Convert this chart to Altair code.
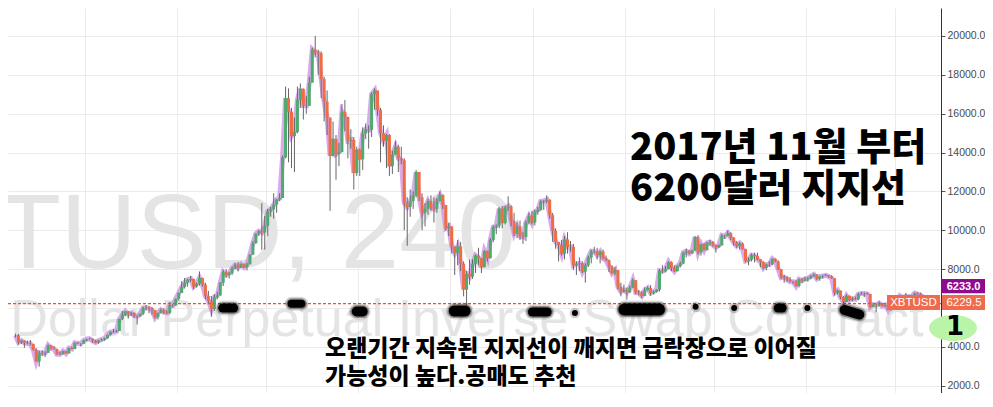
import altair as alt
import pandas as pd

# ---------------- daily candles (XBTUSD) ----------------
first_open = 4600
sep_c = [4590,4230,4320,4200,4170,4150,3860,3250,3690,3650,3690,4080,3920,3880,3620,3620,3780,3660,3930,3890,4210,4180,4160,4340]
sep_h = [4680,4660,4360,4330,4320,4350,4160,3930,3800,3830,3770,4120,4100,4050,3900,3760,3810,3790,3970,4000,4230,4250,4190,4360]
sep_l = [4490,4120,4150,3950,4130,4080,3800,3230,2980,3550,3480,3690,3860,3860,3590,3570,3600,3650,3660,3870,3900,4150,4030,4160]

oct_c = [4400,4410,4310,4220,4320,4370,4440,4610,4770,4780,4820,5430,5640,5830,5680,5750,5600,5570,5700,6000,6010,5980,5900,5520,5750,5900,5780,5750,6150,6130,6470]
oct_h = [4410,4470,4430,4360,4350,4420,4470,4620,4800,4930,4880,5450,5850,5840,5840,5790,5760,5610,5720,6060,6150,6080,6040,5890,5760,5970,5990,5870,6310,6200,6480]
oct_l = [4280,4380,4210,4180,4160,4310,4320,4420,4580,4720,4750,4830,5380,5580,5450,5590,5500,5150,5540,5630,5890,5730,5650,5450,5410,5720,5690,5690,5680,6030,6100]

nov_c = [6770,7080,7300,7450,7500,7100,7250,7550,7200,6620,6360,5950,6560,6640,7300,7850,7700,7790,8040,8200,8070,8250,8090,8250,8750,9330,9820,9950,9880,10230]
nov_h = [6800,7380,7550,7500,7650,7500,7300,7880,7560,7300,6880,6620,6720,6840,7330,7960,8000,7860,8110,8300,8370,8290,8290,8330,8760,9450,9830,10000,11400,10730]
nov_l = [6380,6770,7000,7100,7350,6980,7050,7150,7100,6450,6200,5550,5850,6450,6640,7130,7580,7520,7700,7990,7880,8070,8060,7930,8240,8730,9310,9700,9000,9000]

dec_c = [10970,11080,11320,11590,11660,13750,16800,16100,14850,15060,16730,17280,16410,16400,17600,19300,19140,19110,17780,16620,15800,13830,14700,13920,14030,16100,15840,14600,14650,12950,14150]
dec_h = [11100,11200,11900,11600,11900,13850,17400,17300,16300,15800,17400,17560,17300,16900,17900,19400,20000,19300,19200,17900,17200,15800,15600,14900,14500,16500,16700,15700,15200,14800,14300]
dec_l = [9700,10700,10600,10900,11500,11650,13700,13500,13200,13000,15000,16300,15700,16000,16400,17600,18900,18000,16800,15600,14900,11000,13800,12600,13300,14000,15100,13700,14200,12100,12800]

jan_c = [13650,14980,15200,15170,17000,17200,16200,15000,14600,14900,13300,13900,14300,13700,13600,11400,11200,11500,11800,13000,11700,10900,11100,11500,11200,11100,11500,11800,11300,10100,10200]
jan_h = [14200,15300,15500,15400,17100,17300,17100,16300,15400,14950,14950,14100,14600,14400,14300,13700,11700,12100,12000,13100,13000,11900,11400,11600,11800,11700,11650,12000,11850,11300,10400]
jan_l = [12800,13100,14700,14200,14800,16200,15900,13500,14300,13200,12800,12900,13900,13000,13400,10000,9200,10700,11100,11700,11500,10000,10200,10800,11000,10400,10900,11500,11100,10000,9700]

feb_c = [9170,8830,9170,8280,6950,7750,7620,8270,8700,8570,8100,8930,8560,9500,10170,10230,11110,10380,11160,11230,10480,9830,10200,9700,9660,10400,10730,10400]
feb_h = [10200,9100,9500,9400,8400,7900,8500,8500,8750,9100,8550,8970,8950,9600,10250,10300,11200,11250,11250,11750,11300,10900,10400,10500,9900,10500,10900,11000]
feb_l = [8800,7700,8200,7900,6600,6000,7200,7500,7800,8200,7800,8100,8400,8550,9400,9800,10100,10100,10300,11000,10200,9700,9600,9500,9300,9450,10300,10300]

mar_c = [10950,11050,11490,11510,11570,10780,9970,9400,9240,8790,9530,9140,9150,8200,8270,8300,7870,8200,8600,8920,8900,8720,8900,8550,8450,8140,7790,7950,7090,6840,6930]
mar_h = [11050,11200,11550,11550,11800,11600,10900,10100,9400,9500,9700,9900,9450,9300,8400,8600,8400,8300,8700,9000,9150,9100,8950,9000,8700,8500,8200,8100,7950,7300,7200]
mar_l = [10250,10800,11000,11050,11400,10600,9400,9050,8400,8700,8500,8800,8900,7950,7700,7900,7800,7300,8100,8300,8800,8500,8300,8500,8400,7850,7750,7700,6950,6600,6800]

apr_c = [6810,7050,7430,6790,6780,6620,6910,7030,6770,6830,6940,7920,7890,8000,8360,8060,7890,8160,8290,8850,8920,8800,8950,9650,8860,9280,8980,9350,9390,9240]
apr_h = [7050,7150,7520,7440,6930,6860,7070,7100,7180,6900,6970,8000,8200,8150,8400,8400,8200,8200,8380,8900,9050,9000,9000,9700,9750,9300,9350,9400,9500,9450]
apr_l = [6430,6770,7030,6720,6650,6520,6600,6900,6640,6700,6800,6850,7800,7830,8000,7900,7850,7890,8090,8250,8600,8760,8800,8950,8750,8700,8950,8950,9200,9150]

may_c = [9120,9230,9740,9700,9860,9620,9370,9190,9320,9030,8420,8480,8720,8680,8500,8370,8060,8240,8240,8530,8400,8000,7560,7590,7460,7350,7350,7130,7470,7400,7500]
may_h = [9250,9270,9800,9750,9990,9900,9650,9450,9400,9380,9050,8600,8800,8850,8850,8500,8400,8280,8400,8550,8550,8450,8000,7700,7650,7600,7400,7450,7530,7550,7600]
may_l = [8850,9100,9200,9550,9700,9500,9200,9100,9000,9000,8350,8200,8400,8350,8450,8100,8000,7950,8120,8200,8350,7950,7500,7300,7350,7320,7250,7100,7060,7300,7380]

jun_c = [7530,7640,7720,7500,7630,7650,7680,7620,7530,6780,6900,6550,6310,6630,6400,6490,6450,6710,6740,6760,6720,6050,6170,6150,6250,6090,6160,5900,6220,6400]
jun_h = [7600,7700,7780,7750,7650,7700,7750,7700,7680,7540,6950,6900,6610,6700,6640,6560,6580,6780,6830,6800,6800,6730,6250,6230,6340,6270,6200,6170,6290,6500]
jun_l = [7350,7480,7600,7450,7400,7520,7640,7550,7500,6650,6700,6450,6140,6300,6360,6350,6420,6400,6680,6560,6670,6000,6050,5780,6080,6070,6040,5870,5830,6190]

jul_c = [6360,6620,6510,6600,6530,6600,6760,6710,6650,6300,6380,6250,6229.5]
jul_h = [6420,6650,6680,6770,6700,6640,6800,6800,6790,6690,6400,6390,6330]
jul_l = [6300,6330,6480,6430,6480,6460,6500,6680,6620,6290,6280,6070,6150]

last_price = 6229.5
mark_price = 6233.0
y_ticks = [2000, 4000, 6000, 8000, 10000, 12000, 14000, 16000, 18000, 20000, 22000]

# support-line annotation blobs (hand-drawn marks on the original)
blob_start = ["2017-11-16T08:00:00", "2017-12-09T12:00:00", "2017-12-31T12:00:00", "2018-02-02T08:00:00",
              "2018-02-28T16:00:00", "2018-03-31T16:00:00", "2018-05-22T12:00:00", "2018-06-13T20:00:00"]
blob_end = ["2017-11-20T00:00:00", "2017-12-12T20:00:00", "2018-01-02T12:00:00", "2018-02-06T00:00:00",
            "2018-03-05T16:00:00", "2018-04-12T08:00:00", "2018-05-23T20:00:00", "2018-06-18T20:00:00"]
blob_p1 = [5999, 6215, 5819, 5845, 5793, 5922, 5999, 5896]
blob_p2 = [5999, 6215, 5819, 5845, 5793, 5922, 5999, 5665]
blob_w = [9, 8, 10, 11, 9, 12, 9, 10]
dot_t = ["2018-03-15T00:00:00", "2018-04-24T16:00:00", "2018-05-07T16:00:00", "2018-06-01T08:00:00"]
dot_p = [5742, 6066, 5999, 5999]

# ---------------- tables ----------------
close = sep_c + oct_c + nov_c + dec_c + jan_c + feb_c + mar_c + apr_c + may_c + jun_c + jul_c
high = sep_h + oct_h + nov_h + dec_h + jan_h + feb_h + mar_h + apr_h + may_h + jun_h + jul_h
low = sep_l + oct_l + nov_l + dec_l + jan_l + feb_l + mar_l + apr_l + may_l + jun_l + jul_l
dates = pd.date_range("2017-09-07 12:00", "2018-07-13 12:00", freq="D")
assert len(close) == len(high) == len(low) == len(dates)
opens = [first_open] + close[:-1]
df = pd.DataFrame({"t": dates.strftime("%Y-%m-%dT%H:%M:%S"), "o": opens, "h": high, "l": low, "c": close})

blobs = pd.DataFrame({"s": blob_start, "e": blob_end, "p1": blob_p1, "p2": blob_p2, "w": blob_w})
blobs["w2"] = blobs["w"] + 3
blobs["w3"] = blobs["w"] + 6
dots = pd.DataFrame({"t": dot_t, "p": dot_p})
one = pd.DataFrame({"a": [0]})

# ---------------- scales / axes ----------------
x_scale = alt.Scale(domain=[alt.DateTime(year=2017, month=9, date=6, hours=16),
                            alt.DateTime(year=2018, month=7, date=14, hours=16)])
y_scale = alt.Scale(domain=[1624, 21441], nice=False, zero=False)
x_axis = alt.Axis(title=None, labels=False, ticks=False, domain=False, grid=True,
                  gridColor="#ebebeb", tickCount="month")
y_axis = alt.Axis(orient="right", title=None, values=y_ticks, format=".1f", labelFontSize=10.5,
                  labelExpr="datum.value == 6000 ? '' : format(datum.value, '.1f')",
                  labelFont="Liberation Sans", labelColor="#4a4a4a", tickColor="#555555", tickSize=4,
                  domainColor="#333333", gridColor="#ebebeb", labelPadding=2)


def X(f):
    return alt.X(f, scale=x_scale, axis=x_axis)


def Y(f):
    return alt.Y(f, scale=y_scale, axis=y_axis)


def txt(s, x, y, **kw):
    return alt.Chart(one).mark_text(text=s, **kw).encode(x=alt.value(x), y=alt.value(y))


def box(x1, x2, y1, y2, color):
    return alt.Chart(one).mark_rect(color=color).encode(
        x=alt.value(x1), x2=alt.value(x2), y=alt.value(y1), y2=alt.value(y2))


wm_color = "#e4e4e4"
watermark1 = txt("XBTUSD, 240", 508, 260, align="right", baseline="alphabetic", fontSize=105,
                 font="Liberation Sans", color=wm_color)
watermark2 = txt("Dollar Perpetual Inverse Swap Contract", 459, 328, align="center", baseline="alphabetic",
                 fontSize=52, font="Liberation Sans", color=wm_color)

base = alt.Chart(df).encode(x=X("t:T"))
purple = base.mark_line(color="#cc8ee6", strokeWidth=5, opacity=0.75).encode(y=Y("c:Q"))
wicks = base.mark_rule(color="#666666", strokeWidth=1).encode(y=Y("l:Q"), y2="h:Q")
bodies = base.mark_bar(size=3).encode(
    y=Y("o:Q"), y2="c:Q",
    color=alt.condition("datum.c >= datum.o", alt.value("#4dab6d"), alt.value("#ef6c45")))

price_line = alt.Chart(pd.DataFrame({"p": [last_price]})).mark_rule(
    color="#f4511e", strokeDash=[3, 2], strokeWidth=1.2).encode(y=Y("p:Q"))

blob_layers = []
for wcol, op in (("w3", 0.15), ("w2", 0.35)):
    blob_layers.append(alt.Chart(blobs).mark_rule(color="black", strokeCap="round", opacity=op).encode(
        x=X("s:T"), x2="e:T", y=Y("p1:Q"), y2="p2:Q", strokeWidth=alt.StrokeWidth(wcol + ":Q", scale=None)))
blob_layers.append(alt.Chart(blobs).mark_rule(color="black", strokeCap="round").encode(
    x=X("s:T"), x2="e:T", y=Y("p1:Q"), y2="p2:Q", strokeWidth=alt.StrokeWidth("w:Q", scale=None)))
blob_layers.append(alt.Chart(dots).mark_circle(color="black", size=110, opacity=0.2).encode(x=X("t:T"), y=Y("p:Q")))
blob_layers.append(alt.Chart(dots).mark_circle(color="black", size=36, opacity=1).encode(x=X("t:T"), y=Y("p:Q")))

kfont = "Noto Sans CJK KR"
title1 = txt("2017년 11월 부터", 622, 152, align="left", baseline="alphabetic", fontSize=38,
             font=kfont, fontWeight=900, color="black")
title2 = txt("6200달러 지지선", 622, 193, align="left", baseline="alphabetic", fontSize=38,
             font=kfont, fontWeight=900, color="black")
note1 = txt("오랜기간 지속된 지지선이 깨지면 급락장으로 이어질", 317, 348, align="left", baseline="alphabetic",
            fontSize=23, font=kfont, fontWeight=900, color="black")
note2 = txt("가능성이 높다.공매도 추천", 317, 376, align="left", baseline="alphabetic",
            fontSize=23, font=kfont, fontWeight=900, color="black")

purple_box = box(933, 978, 271, 285.3, "#8e0b8e")
purple_txt = txt(f"{mark_price:.1f}", 955.5, 278.5, align="center", baseline="middle", fontSize=11,
                 font="Liberation Sans", fontWeight="bold", color="white")
orange_box1 = box(879, 932, 287, 302, "#ee6b4d")
orange_box2 = box(934, 978, 287, 302, "#ee6b4d")
orange_txt1 = txt("XBTUSD", 905.5, 295, align="center", baseline="middle", fontSize=11.5,
                  font="Liberation Sans", color="white")
orange_txt2 = txt(f"{last_price:.1f}", 956, 295, align="center", baseline="middle", fontSize=11.5,
                  font="Liberation Sans", color="white")

ellipse = alt.Chart(one).mark_point(
    shape="M -1 0 A 1 0.54 0 1 0 1 0 A 1 0.54 0 1 0 -1 0 Z", size=2304, filled=True,
    color="#baf4a8", opacity=1).encode(x=alt.value(945), y=alt.value(320))
one_txt = txt("1", 947, 319, align="center", baseline="middle", fontSize=26, font="DejaVu Sans",
              fontWeight="bold", color="black")

chart = alt.layer(
    watermark1, watermark2, purple, wicks, bodies, price_line,
    *blob_layers,
    title1, title2, note1, note2,
    purple_box, purple_txt, orange_box1, orange_box2, orange_txt1, orange_txt2,
    ellipse, one_txt,
).properties(
    width=933, height=385,
    autosize=alt.AutoSizeParams(type="none"),
    padding={"left": 0, "top": 0, "right": 44, "bottom": 0},
    background="white",
).configure_view(strokeWidth=0)

chart.save("out.html", embed_options={"renderer": "svg", "actions": False})
